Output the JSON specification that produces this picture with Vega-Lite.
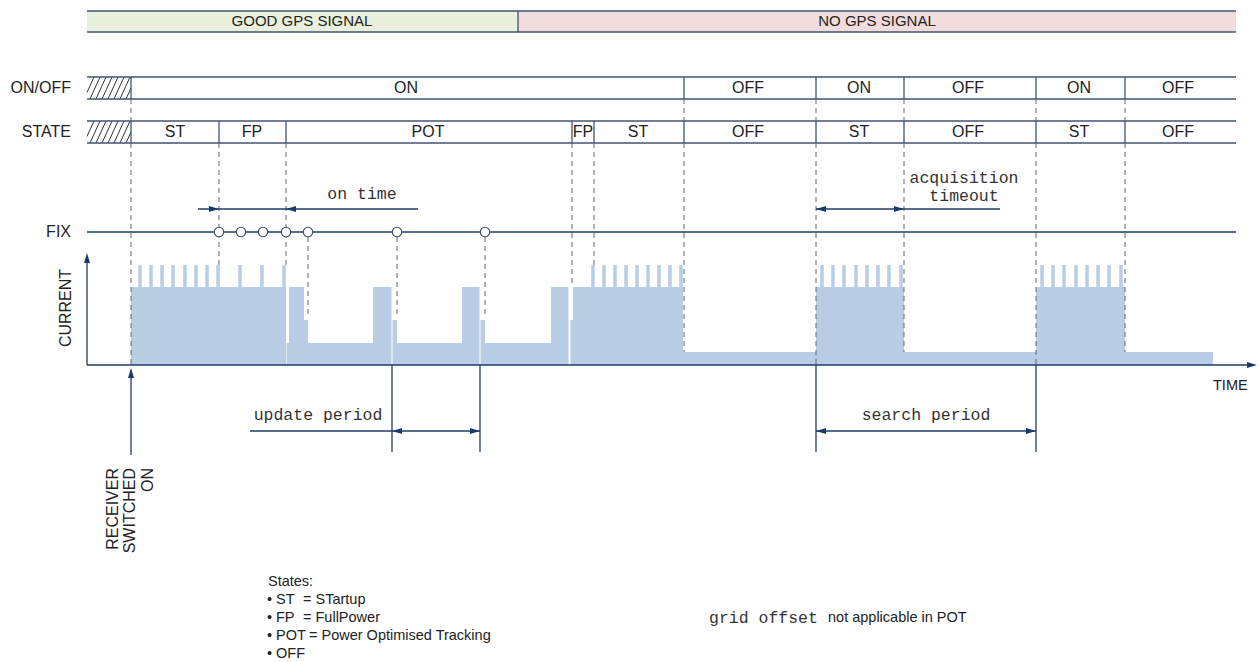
{
"$schema":"https://vega.github.io/schema/vega-lite/v6.json",
"width":1260,"height":662,"padding":0,
"autosize":{"type":"fit","contains":"padding"},
"background":"#ffffff",
"config":{"view":{"stroke":null}},
"datasets":{
 "bands":[{"x":87,"x2":518,"y":11,"y2":32,"zone":"GOOD"},{"x":518,"x2":1236,"y":11,"y2":32,"zone":"NO"}],
 "current":[
  {"x":131,"x2":286,"y":287},{"x":286.5,"x2":289,"y":343},{"x":289,"x2":304,"y":287},{"x":304,"x2":308,"y":320},
  {"x":308,"x2":373,"y":343},{"x":373,"x2":391.5,"y":287},{"x":392.5,"x2":397,"y":320},{"x":397,"x2":462,"y":343},
  {"x":462,"x2":479.5,"y":287},{"x":480.5,"x2":485,"y":320},{"x":485,"x2":551,"y":343},{"x":551,"x2":568.5,"y":287},
  {"x":570.5,"x2":573,"y":320},{"x":573,"x2":683,"y":287},{"x":683,"x2":816,"y":352},{"x":816,"x2":904,"y":287},
  {"x":904,"x2":1036,"y":352},{"x":1036,"x2":1125,"y":287},{"x":1125,"x2":1213,"y":352}],
 "spikes":[
  {"x":140,"y":265},{"x":151,"y":265},{"x":162,"y":265},{"x":173,"y":265},{"x":185,"y":265},{"x":196,"y":265},{"x":207,"y":265},{"x":218,"y":265},
  {"x":240,"y":265},{"x":262,"y":265},{"x":284,"y":265},
  {"x":593,"y":265},{"x":604,"y":265},{"x":615,"y":265},{"x":626,"y":265},{"x":637,"y":265},{"x":648,"y":265},{"x":659,"y":265},{"x":670,"y":265},{"x":681,"y":265},
  {"x":822,"y":265},{"x":833,"y":265},{"x":844,"y":265},{"x":856,"y":265},{"x":867,"y":265},{"x":878,"y":265},{"x":889,"y":265},{"x":901,"y":265},
  {"x":1042,"y":265},{"x":1053,"y":265},{"x":1064,"y":265},{"x":1076,"y":265},{"x":1087,"y":265},{"x":1098,"y":265},{"x":1109,"y":265},{"x":1121,"y":265}],
 "hatch":[
  {"x":87,"y":92.4,"x2":94,"y2":77},{"x":90,"y":99,"x2":100,"y2":77},{"x":96,"y":99,"x2":106,"y2":77},{"x":102,"y":99,"x2":112,"y2":77},
  {"x":108,"y":99,"x2":118,"y2":77},{"x":114,"y":99,"x2":124,"y2":77},{"x":120,"y":99,"x2":130,"y2":77},{"x":126,"y":99,"x2":131,"y2":88},
  {"x":87,"y":136.4,"x2":94,"y2":121},{"x":90,"y":143,"x2":100,"y2":121},{"x":96,"y":143,"x2":106,"y2":121},{"x":102,"y":143,"x2":112,"y2":121},
  {"x":108,"y":143,"x2":118,"y2":121},{"x":114,"y":143,"x2":124,"y2":121},{"x":120,"y":143,"x2":130,"y2":121},{"x":126,"y":143,"x2":131,"y2":132}],
 "lines":[
  {"kind":"frame","x":87,"x2":1236,"y":11,"y2":11},{"kind":"frame","x":87,"x2":1236,"y":32,"y2":32},{"kind":"frame","x":518,"x2":518,"y":11,"y2":32},
  {"kind":"frame","x":87,"x2":1236,"y":77,"y2":77},{"kind":"frame","x":87,"x2":1236,"y":99,"y2":99},
  {"kind":"frame","x":87,"x2":1236,"y":121,"y2":121},{"kind":"frame","x":87,"x2":1236,"y":143,"y2":143},
  {"kind":"frame","x":131,"x2":131,"y":77,"y2":99},{"kind":"frame","x":684,"x2":684,"y":77,"y2":99},{"kind":"frame","x":816,"x2":816,"y":77,"y2":99},
  {"kind":"frame","x":904,"x2":904,"y":77,"y2":99},{"kind":"frame","x":1036,"x2":1036,"y":77,"y2":99},{"kind":"frame","x":1125,"x2":1125,"y":77,"y2":99},
  {"kind":"frame","x":131,"x2":131,"y":121,"y2":143},{"kind":"frame","x":219,"x2":219,"y":121,"y2":143},{"kind":"frame","x":286,"x2":286,"y":121,"y2":143},
  {"kind":"frame","x":572,"x2":572,"y":121,"y2":143},{"kind":"frame","x":594,"x2":594,"y":121,"y2":143},{"kind":"frame","x":684,"x2":684,"y":121,"y2":143},
  {"kind":"frame","x":816,"x2":816,"y":121,"y2":143},{"kind":"frame","x":904,"x2":904,"y":121,"y2":143},{"kind":"frame","x":1036,"x2":1036,"y":121,"y2":143},
  {"kind":"frame","x":1125,"x2":1125,"y":121,"y2":143},
  {"kind":"dash","x":131,"x2":131,"y":99,"y2":121},{"kind":"dash","x":131,"x2":131,"y":143,"y2":365},
  {"kind":"dash","x":219,"x2":219,"y":143,"y2":265},{"kind":"dash","x":286,"x2":286,"y":143,"y2":265},
  {"kind":"dash","x":308,"x2":308,"y":237,"y2":315},{"kind":"dash","x":397,"x2":397,"y":237,"y2":317},{"kind":"dash","x":485,"x2":485,"y":237,"y2":317},
  {"kind":"dash","x":572,"x2":572,"y":143,"y2":287},{"kind":"dash","x":594,"x2":594,"y":143,"y2":265},
  {"kind":"dash","x":684,"x2":684,"y":99,"y2":121},{"kind":"dash","x":684,"x2":684,"y":143,"y2":352},
  {"kind":"dash","x":816,"x2":816,"y":99,"y2":121},{"kind":"dash","x":816,"x2":816,"y":143,"y2":365},
  {"kind":"dash","x":904,"x2":904,"y":99,"y2":121},{"kind":"dash","x":904,"x2":904,"y":143,"y2":352},
  {"kind":"dash","x":1036,"x2":1036,"y":99,"y2":121},{"kind":"dash","x":1036,"x2":1036,"y":143,"y2":365},
  {"kind":"dash","x":1125,"x2":1125,"y":99,"y2":121},{"kind":"dash","x":1125,"x2":1125,"y":143,"y2":352},
  {"kind":"navy","x":87,"x2":1236,"y":232,"y2":232},
  {"kind":"navy","x":87,"x2":87,"y":365,"y2":258},{"kind":"navy","x":87,"x2":1250,"y":365,"y2":365},
  {"kind":"navy","x":131,"x2":131,"y":372,"y2":455},
  {"kind":"navy","x":392,"x2":392,"y":365,"y2":452},{"kind":"navy","x":480,"x2":480,"y":365,"y2":452},{"kind":"navy","x":250,"x2":480,"y":431,"y2":431},
  {"kind":"navy","x":816,"x2":816,"y":365,"y2":452},{"kind":"navy","x":1036,"x2":1036,"y":365,"y2":452},{"kind":"navy","x":816,"x2":1036,"y":431,"y2":431},
  {"kind":"navy","x":198,"x2":418,"y":209,"y2":209},{"kind":"navy","x":816,"x2":1000,"y":209,"y2":209}],
 "arrows":[
  {"x":219,"y":209,"dir":"right"},{"x":286,"y":209,"dir":"left"},
  {"x":816,"y":209,"dir":"left"},{"x":904,"y":209,"dir":"right"},
  {"x":392,"y":431,"dir":"left"},{"x":480,"y":431,"dir":"right"},
  {"x":816,"y":431,"dir":"left"},{"x":1036,"y":431,"dir":"right"},
  {"x":87,"y":253,"dir":"up"},{"x":1257,"y":365,"dir":"right"},{"x":131,"y":368,"dir":"up"}],
 "fixes":[{"x":219,"y":232},{"x":241,"y":232},{"x":263,"y":232},{"x":286,"y":232},{"x":308,"y":232},{"x":397,"y":232},{"x":485,"y":232}],
 "labels":[
  {"g":"band","x":302,"y":21,"t":"GOOD GPS SIGNAL"},{"g":"band","x":877,"y":21,"t":"NO GPS SIGNAL"},
  {"g":"cell","x":406,"y":88,"t":"ON"},{"g":"cell","x":748,"y":88,"t":"OFF"},{"g":"cell","x":859,"y":88,"t":"ON"},
  {"g":"cell","x":968,"y":88,"t":"OFF"},{"g":"cell","x":1079,"y":88,"t":"ON"},{"g":"cell","x":1178,"y":88,"t":"OFF"},
  {"g":"cell","x":175,"y":132,"t":"ST"},{"g":"cell","x":252,"y":132,"t":"FP"},{"g":"cell","x":428,"y":132,"t":"POT"},
  {"g":"cell","x":583,"y":132,"t":"FP"},{"g":"cell","x":638,"y":132,"t":"ST"},{"g":"cell","x":748,"y":132,"t":"OFF"},
  {"g":"cell","x":859,"y":132,"t":"ST"},{"g":"cell","x":968,"y":132,"t":"OFF"},{"g":"cell","x":1079,"y":132,"t":"ST"},
  {"g":"cell","x":1178,"y":132,"t":"OFF"},
  {"g":"row","x":71,"y":88,"t":"ON/OFF"},{"g":"row","x":71,"y":132,"t":"STATE"},{"g":"row","x":71,"y":232,"t":"FIX"},
  {"g":"mono","x":362,"y":194,"t":"on time"},{"g":"mono","x":964,"y":178,"t":"acquisition"},{"g":"mono","x":964,"y":196,"t":"timeout"},
  {"g":"mono","x":318,"y":415,"t":"update period"},{"g":"mono","x":926,"y":415,"t":"search period"},
  {"g":"monoleft","x":709,"y":618,"t":"grid offset"},
  {"g":"legend","x":268,"y":582,"t":"States:"},
  {"g":"legend","x":267,"y":600,"t":"•"},{"g":"legend","x":276,"y":600,"t":"ST"},{"g":"legend","x":303,"y":600,"t":"= STartup"},
  {"g":"legend","x":267,"y":618,"t":"•"},{"g":"legend","x":276,"y":618,"t":"FP"},{"g":"legend","x":303,"y":618,"t":"= FullPower"},
  {"g":"legend","x":267,"y":636,"t":"•"},{"g":"legend","x":276,"y":636,"t":"POT"},{"g":"legend","x":309,"y":636,"t":"= Power Optimised Tracking"},
  {"g":"legend","x":267,"y":654,"t":"•"},{"g":"legend","x":276,"y":654,"t":"OFF"},
  {"g":"legend","x":828,"y":618,"t":"not applicable in POT"},
  {"g":"legend","x":1213,"y":386,"t":"TIME"},
  {"g":"vert","x":66,"y":308,"t":"CURRENT"},
  {"g":"vertR","x":113,"y":468,"t":"RECEIVER"},{"g":"vertR","x":130,"y":468,"t":"SWITCHED"},{"g":"vertR","x":148,"y":468,"t":"ON"}]
},
"encoding":{
 "x":{"field":"x","type":"quantitative","scale":{"domain":[0,1260],"nice":false,"zero":false},"axis":null},
 "y":{"field":"y","type":"quantitative","scale":{"domain":[0,662],"nice":false,"zero":false,"reverse":true},"axis":null}
},
"layer":[
 {"data":{"name":"bands"},"mark":{"type":"rect"},"encoding":{"x2":{"field":"x2"},"y2":{"field":"y2"},"color":{"field":"zone","type":"nominal","scale":{"domain":["GOOD","NO"],"range":["#e9f0dc","#f2dcdc"]},"legend":null}}},
 {"data":{"name":"current"},"mark":{"type":"rect","color":"#b9cde5"},"encoding":{"x2":{"field":"x2"},"y2":{"datum":365}}},
 {"data":{"name":"spikes"},"mark":{"type":"rule","color":"#b9cde5","strokeWidth":3.5},"encoding":{"y2":{"datum":287}}},
 {"data":{"name":"hatch"},"mark":{"type":"rule","color":"#333333","strokeWidth":1},"encoding":{"x2":{"field":"x2"},"y2":{"field":"y2"}}},
 {"data":{"name":"lines"},"transform":[{"filter":"datum.kind==='frame'"}],"mark":{"type":"rule","color":"#3f5473","strokeWidth":1.3},"encoding":{"x2":{"field":"x2"},"y2":{"field":"y2"}}},
 {"data":{"name":"lines"},"transform":[{"filter":"datum.kind==='dash'"}],"mark":{"type":"rule","color":"#666666","strokeWidth":1,"strokeDash":[5,4]},"encoding":{"x2":{"field":"x2"},"y2":{"field":"y2"}}},
 {"data":{"name":"lines"},"transform":[{"filter":"datum.kind==='navy'"}],"mark":{"type":"rule","color":"#1f3c6a","strokeWidth":1.3},"encoding":{"x2":{"field":"x2"},"y2":{"field":"y2"}}},
 {"data":{"name":"arrows"},"mark":{"type":"point","filled":true,"color":"#1b3a6c","size":100,"opacity":1},"encoding":{"shape":{"field":"dir","type":"nominal","scale":{"domain":["right","left","up"],"range":["M0,0L-2,-0.6L-2,0.6Z","M0,0L2,-0.6L2,0.6Z","M0,0L-0.6,2L0.6,2Z"]},"legend":null}}},
 {"data":{"name":"fixes"},"mark":{"type":"point","shape":"circle","filled":true,"fill":"#ffffff","stroke":"#3f5473","strokeWidth":1.2,"size":90,"opacity":1}},
 {"data":{"name":"labels"},"transform":[{"filter":"datum.g==='band'"}],"mark":{"type":"text","font":"Liberation Sans","fontSize":15,"color":"#222222","baseline":"middle","align":"center"},"encoding":{"text":{"field":"t"}}},
 {"data":{"name":"labels"},"transform":[{"filter":"datum.g==='cell'"}],"mark":{"type":"text","font":"Liberation Sans","fontSize":16,"color":"#222222","baseline":"middle","align":"center"},"encoding":{"text":{"field":"t"}}},
 {"data":{"name":"labels"},"transform":[{"filter":"datum.g==='row'"}],"mark":{"type":"text","font":"Liberation Sans","fontSize":16,"color":"#222222","baseline":"middle","align":"right"},"encoding":{"text":{"field":"t"}}},
 {"data":{"name":"labels"},"transform":[{"filter":"datum.g==='mono'"}],"mark":{"type":"text","font":"Liberation Mono","fontSize":16.5,"color":"#333333","baseline":"middle","align":"center"},"encoding":{"text":{"field":"t"}}},
 {"data":{"name":"labels"},"transform":[{"filter":"datum.g==='monoleft'"}],"mark":{"type":"text","font":"Liberation Mono","fontSize":16.5,"color":"#333333","baseline":"middle","align":"left"},"encoding":{"text":{"field":"t"}}},
 {"data":{"name":"labels"},"transform":[{"filter":"datum.g==='legend'"}],"mark":{"type":"text","font":"Liberation Sans","fontSize":14.5,"color":"#222222","baseline":"middle","align":"left"},"encoding":{"text":{"field":"t"}}},
 {"data":{"name":"labels"},"transform":[{"filter":"datum.g==='vert'"}],"mark":{"type":"text","font":"Liberation Sans","fontSize":16,"color":"#222222","baseline":"middle","align":"center","angle":270},"encoding":{"text":{"field":"t"}}},
 {"data":{"name":"labels"},"transform":[{"filter":"datum.g==='vertR'"}],"mark":{"type":"text","font":"Liberation Sans","fontSize":16,"color":"#222222","baseline":"middle","align":"right","angle":270},"encoding":{"text":{"field":"t"}}}
]
}
